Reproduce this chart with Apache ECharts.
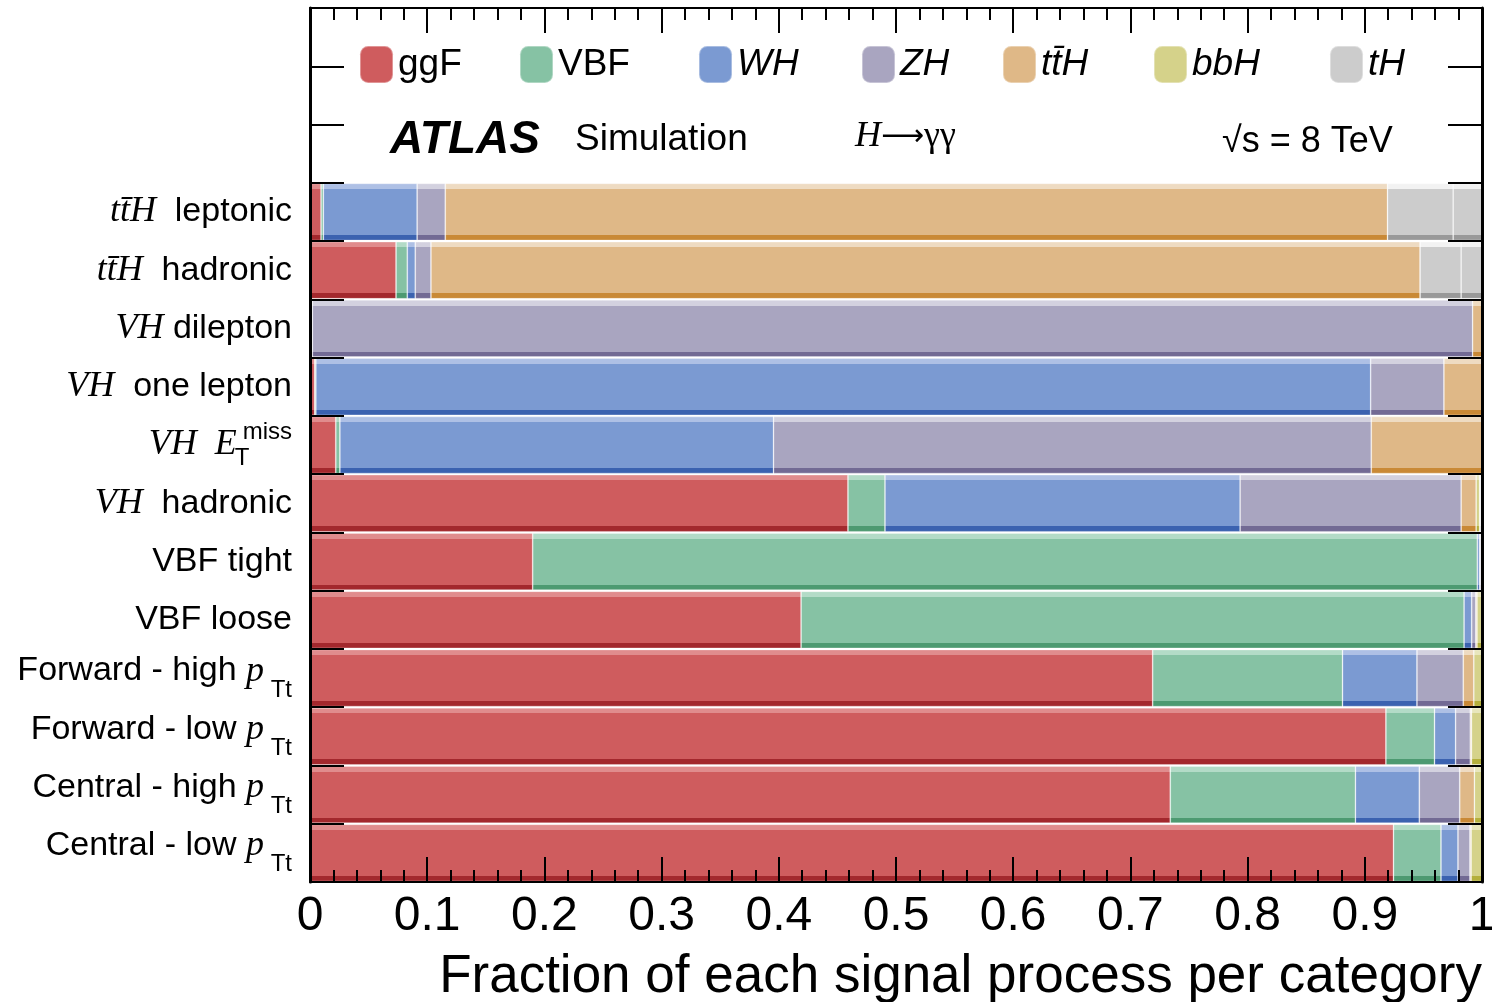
<!DOCTYPE html>
<html><head><meta charset="utf-8">
<script src="https://cdn.jsdelivr.net/npm/echarts@6/dist/echarts.min.js"></script>
<style>html,body{margin:0;padding:0;background:#fff}#c{width:1492px;height:1002px}</style>
</head><body><div id="c"></div>
<script>
// ---- data ----
const categories = ['ttH leptonic','ttH hadronic','VH dilepton','VH one lepton','VH ETmiss','VH hadronic','VBF tight','VBF loose','Forward - high pTt','Forward - low pTt','Central - high pTt','Central - low pTt'];
const ggF  = [0.0094,0.0734,0.001, 0.004, 0.022, 0.459, 0.190,0.419, 0.719, 0.918, 0.734, 0.9245];
const VBF  = [0.002, 0.0096,0.0005,0.001, 0.0035,0.0316,0.806,0.5657,0.162, 0.0415,0.158, 0.0405];
const WH   = [0.080, 0.0068,0.0005,0.900, 0.370, 0.303, 0.002,0.0065,0.0635,0.018, 0.0545,0.0145];
const ZH   = [0.024, 0.0134,0.990, 0.0625,0.510, 0.1886,0.001,0.0035,0.0395,0.0125,0.0345,0.0102];
const ttH  = [0.804, 0.844, 0.0085,0.0325,0.0945,0.0128,0.001,0.001, 0.009, 0.001, 0.0125,0.001];
const bbH  = [0,     0,     0,     0,     0,     0.003, 0,    0.004, 0.007, 0.009, 0.0065,0.0095];
const tHqb = [0.056, 0.035, 0,     0,     0,     0.001, 0,    0,     0,     0,     0,     0];
const WtH  = [0.025, 0.019, 0,     0,     0,     0.001, 0,    0,     0,     0,     0,     0];
const xTickLabels = ['0','0.1','0.2','0.3','0.4','0.5','0.6','0.7','0.8','0.9','1'];
const legendNames = ['ggF','VBF','WH','ZH','ttH','bbH','tH'];
const legendTexts = ['ggF','VBF','WH','ZH','tt\u0304H','bbH','tH'];

// ---- styling ----
const SANS = "'Liberation Sans', Arial, Helvetica, sans-serif";
const SERIF = "'Liberation Serif', 'Times New Roman', serif";
const palette = {
  ggF: ['#e08c8d','#cf5c5e','#a3282d'],
  VBF: ['#b3dbc7','#86c2a4','#4d9a71'],
  WH:  ['#aec0e5','#7b9ad2','#3b62b0'],
  ZH:  ['#d3d1df','#a9a5c0','#726a94'],
  ttH: ['#eedbc2','#dfb887','#c98936'],
  bbH: ['#e8e6bc','#d5d28a','#b4af3c'],
  tH:  ['#f2f2f2','#cccccc','#999999']
};
function grad(c){
  return {type:'linear',x:0,y:0,x2:0,y2:1,colorStops:[
    {offset:0,color:c[0]},{offset:0.1,color:c[0]},
    {offset:0.1,color:c[1]},{offset:0.905,color:c[1]},
    {offset:0.905,color:c[2]},{offset:1,color:c[2]}]};
}
const labelMarkup = {
  'ttH leptonic': '{it|tt\u0304H}{s|  leptonic}',
  'ttH hadronic': '{it|tt\u0304H}{s|  hadronic}',
  'VH dilepton': '{it|VH}{s| dilepton}',
  'VH one lepton': '{it|VH}{s|  one lepton}',
  'VH ETmiss': '{it|VH  E}{subz|T}{sup|miss}',
  'VH hadronic': '{it|VH}{s|  hadronic}',
  'VBF tight': '{s|VBF tight}',
  'VBF loose': '{s|VBF loose}',
  'Forward - high pTt': '{su|Forward - high }{pu|p}{sub| Tt}',
  'Forward - low pTt': '{su|Forward - low }{pu|p}{sub| Tt}',
  'Central - high pTt': '{su|Central - high }{pu|p}{sub| Tt}',
  'Central - low pTt': '{su|Central - low }{pu|p}{sub| Tt}'
};
const yCats = ['','',''].concat(categories);
const pad = a => ['-','-','-'].concat(a);

const procs = [
  ['ggF', ggF, 'ggF'], ['VBF', VBF, 'VBF'], ['WH', WH, 'WH'], ['ZH', ZH, 'ZH'],
  ['ttH', ttH, 'ttH'], ['bbH', bbH, 'bbH'], ['tH', tHqb, 'tH'], ['WtH', WtH, 'tH']
];
const series = procs.map(p => ({
  name: p[0], type: 'bar', stack: 'all', data: pad(p[1]),
  barCategoryGap: '2%',
  itemStyle: {color: grad(palette[p[2]]), borderColor: 'rgba(255,255,255,0.35)', borderWidth: 0.8},
  emphasis: {disabled: true}
}));

const legendLefts = [359, 519, 698, 861, 1002, 1153, 1329];
const legends = legendNames.map((n, i) => ({
  data: [{name: n, itemStyle: {color: palette[n][1]}}],
  left: legendLefts[i], top: 45, padding: 0,
  itemWidth: 33, itemHeight: 37, icon: 'roundRect', selectedMode: false,
  formatter: () => legendTexts[i],
  textStyle: {fontFamily: SANS, fontSize: 37, fontStyle: i < 2 ? 'normal' : 'italic', color: '#000'}
}));

const xAxisCommon = {
  type: 'value', min: 0, max: 1, interval: 0.1, z: 10,
  axisLine: {show: true, onZero: false, lineStyle: {color: '#000', width: 2}},
  axisTick: {show: true, inside: true, length: 25, lineStyle: {color: '#000', width: 2}},
  minorTick: {show: true, splitNumber: 5, length: 12, lineStyle: {color: '#000', width: 2}},
  splitLine: {show: false}
};
const yAxisCommon = {
  type: 'category', data: yCats, inverse: true, z: 10,
  axisLine: {show: true, onZero: false, lineStyle: {color: '#000', width: 3}},
  axisTick: {show: true, inside: true, length: 34, lineStyle: {color: '#000', width: 2}},
  splitLine: {show: false}
};

const chart = echarts.init(document.getElementById('c'), null, {renderer: 'canvas'});
chart.setOption({
  animation: false,
  backgroundColor: '#fff',
  grid: {left: 310, right: 10, top: 8, bottom: 120, containLabel: false, outerBoundsMode: 'none'},
  legend: legends,
  xAxis: [
    Object.assign({}, xAxisCommon, {
      position: 'bottom',
      axisLabel: {show: true, margin: 11, fontFamily: SANS, fontSize: 48, color: '#000',
        formatter: v => xTickLabels[Math.round(v * 10)]},
      name: 'Fraction of each signal process per category',
      nameLocation: 'end', nameGap: 0,
      nameTextStyle: {fontFamily: SANS, fontSize: 53, color: '#000', align: 'right', verticalAlign: 'top', padding: [69, 0, 0, 0]}
    }),
    Object.assign({}, xAxisCommon, {position: 'top', axisLabel: {show: false}})
  ],
  yAxis: [
    Object.assign({}, yAxisCommon, {
      position: 'left',
      axisLabel: {show: true, margin: 18, color: '#000', interval: 0,
        formatter: v => labelMarkup[v] || '',
        rich: {
          s:   {fontFamily: SANS, fontSize: 34, color: '#000'},
          it:  {fontFamily: SERIF, fontStyle: 'italic', fontSize: 36, color: '#000'},
          su:  {fontFamily: SANS, fontSize: 34, color: '#000', padding: [0, 0, 14, 0]},
          pu:  {fontFamily: SERIF, fontStyle: 'italic', fontSize: 36, color: '#000', padding: [0, 0, 14, 0]},
          sub: {fontFamily: SANS, fontSize: 24, color: '#000', padding: [24, 0, 0, 0]},
          subz:{fontFamily: SANS, fontSize: 24, color: '#000', padding: [26, 0, 0, 5], width: 1, align: 'left'},
          sup: {fontFamily: SANS, fontSize: 24, color: '#000', padding: [0, 0, 26, 0], align: 'left'}
        }}
    }),
    Object.assign({}, yAxisCommon, {position: 'right', axisLabel: {show: false}})
  ],
  graphic: [
    {type: 'text', x: 390, y: 140, z: 20, style: {text: 'ATLAS', fontFamily: SANS, fontSize: 46, fontWeight: 'bold', fontStyle: 'italic', fill: '#000', verticalAlign: 'middle'}},
    {type: 'text', x: 575, y: 140, z: 20, style: {text: 'Simulation', fontFamily: SANS, fontSize: 37, fill: '#000', verticalAlign: 'middle'}},
    {type: 'text', x: 855, y: 137, z: 20, style: {text: '{h|H}{a|\u27f6}{g|\u03b3\u03b3}', verticalAlign: 'middle',
      rich: {h: {fontFamily: SERIF, fontStyle: 'italic', fontSize: 36, fill: '#000'},
             a: {fontFamily: "'DejaVu Sans', sans-serif", fontSize: 30, fill: '#000'},
             g: {fontFamily: SERIF, fontSize: 36, fill: '#000'}}}},
    {type: 'text', x: 1222, y: 142, z: 20, style: {text: '\u221as = 8 TeV', fontFamily: SANS, fontSize: 36, fill: '#000', verticalAlign: 'middle'}}
  ],
  series: series
});
</script></body></html>
